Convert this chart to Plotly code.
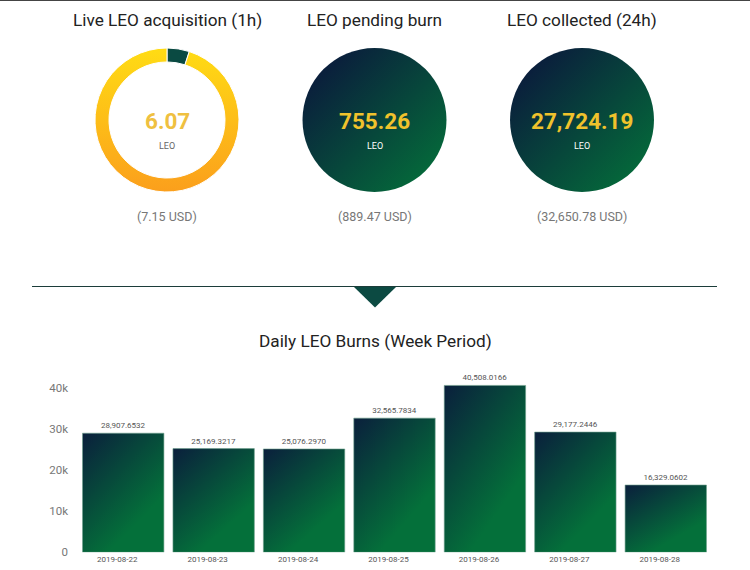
import plotly.graph_objects as go

W, H = 750, 570

dates = ["2019-08-22", "2019-08-23", "2019-08-24", "2019-08-25", "2019-08-26", "2019-08-27", "2019-08-28"]
burns = [28907.6532, 25169.3217, 25076.2970, 32565.7834, 40508.0166, 29177.2446, 16329.0602]

gauge_titles = ["Live LEO acquisition (1h)", "LEO pending burn", "LEO collected (24h)"]
gauge_values = ["6.07", "755.26", "27,724.19"]
gauge_usd = ["(7.15 USD)", "(889.47 USD)", "(32,650.78 USD)"]
gauge_centers = [167, 374.5, 582]
live_slices = [0.32, 6.07]

FONT = "Roboto, sans-serif"
px = lambda v: v / W
py = lambda v: 1 - v / H

fig = go.Figure()
R = 72
CY = 120
fig.add_trace(go.Pie(
    values=live_slices, sort=False, direction="clockwise", rotation=0, hole=0.806,
    domain=dict(x=[px(gauge_centers[0] - R), px(gauge_centers[0] + R)], y=[py(CY + R), py(CY - R)]),
    marker=dict(colors=["#0a4a42", "#fdc41a"], line=dict(color="white", width=1)),
    textinfo="none", hoverinfo="skip", showlegend=False))
for i in (1, 2):
    fig.add_trace(go.Pie(
        values=[1], sort=False,
        domain=dict(x=[px(gauge_centers[i] - R), px(gauge_centers[i] + R)], y=[py(CY + R), py(CY - R)]),
        marker=dict(colors=["#0a4a42"], line=dict(width=0)),
        textinfo="none", hoverinfo="skip", showlegend=False))

fig.add_trace(go.Bar(
    x=dates, y=burns, texttemplate="%{y:,.4f}", textposition="outside", textangle=0,
    cliponaxis=False, constraintext="none",
    textfont=dict(family=FONT, size=8, color="#555555"),
    marker=dict(color="#0a4a42", line=dict(color="rgba(110,160,140,0.6)", width=1)),
    hoverinfo="skip", showlegend=False))

ann = []
for i in range(3):
    c = gauge_centers[i]
    ann.append(dict(x=px(c), y=py(20), text=gauge_titles[i], font=dict(family=FONT, size=17.2, color="#222222")))
    ann.append(dict(x=px(c), y=py(120.5), text=gauge_values[i], font=dict(family=FONT, size=22.5, weight=700, color="#f0c22c" if i else "#efc040")))
    ann.append(dict(x=px(c), y=py(146), text="LEO", font=dict(family=FONT, size=9, color="#666666" if i == 0 else "#ffffff")))
    ann.append(dict(x=px(c), y=py(216), text=gauge_usd[i], font=dict(family=FONT, size=12.5, color="#777777")))
ann.append(dict(x=px(375), y=py(341), text="Daily LEO Burns (Week Period)", font=dict(family=FONT, size=17.2, color="#222222")))
for a in ann:
    a.update(xref="paper", yref="paper", xanchor="center", yanchor="middle", showarrow=False)

shapes = [
    dict(type="rect", xref="paper", yref="paper", x0=0, x1=1, y0=py(1), y1=1, fillcolor="#444444", line=dict(width=0), layer="above"),
    dict(type="line", xref="paper", yref="paper", x0=px(32), x1=px(717), y0=py(286.5), y1=py(286.5), line=dict(color="#1c3d3a", width=1.2)),
    dict(type="path", xref="paper", yref="paper",
         path=f"M {px(354)} {py(287)} L {px(396)} {py(287)} L {px(375)} {py(307.5)} Z",
         fillcolor="#0c4a42", line=dict(width=0)),
]

fig.update_layout(
    width=W, height=H, autosize=False, paper_bgcolor="white", plot_bgcolor="white",
    margin=dict(l=0, r=0, t=0, b=0, autoexpand=False), bargap=0.1, font=dict(family=FONT),
    annotations=ann, shapes=shapes,
    xaxis=dict(domain=[px(78), px(711)], type="category", showgrid=False, showline=False, zeroline=False,
               ticks="", ticklabelshift=-6, ticklabelstandoff=1, tickfont=dict(family=FONT, size=8, color="#555555")),
    yaxis=dict(domain=[py(552.3), py(380)], range=[0, 41820], tickvals=[0, 10000, 20000, 30000, 40000],
               tickformat="~s", showgrid=False, showline=False, zeroline=False, ticks="",
               ticklabelstandoff=9, tickfont=dict(family=FONT, size=11.5, color="#777777")),
)

post = """
document.documentElement.style.overflow='hidden';
document.body.style.margin='0';
var gd=document.getElementById('{plot_id}');
var svg=gd.querySelector('svg.main-svg');
var NS='http://www.w3.org/2000/svg';
var defs=document.createElementNS(NS,'defs');
function grad(id,x2,y2,stops){
  var g=document.createElementNS(NS,'linearGradient');
  g.setAttribute('id',id);g.setAttribute('x1','0');g.setAttribute('y1','0');g.setAttribute('x2',x2);g.setAttribute('y2',y2);
  stops.forEach(function(s){var t=document.createElementNS(NS,'stop');t.setAttribute('offset',s[0]);t.setAttribute('stop-color',s[1]);g.appendChild(t);});
  defs.appendChild(g);
}
grad('gBar','0.7','1',[[0,'#0a1f3c'],[0.82,'#04703a'],[1,'#04703a']]);
grad('gCircle','1','1',[[0.15,'#0a1f3c'],[0.95,'#04703a']]);
grad('gGold','0','1',[[0,'#ffdc14'],[1,'#fb9f1c']]);
svg.insertBefore(defs,svg.firstChild);
gd.querySelectorAll('.barlayer .point path').forEach(function(p){p.style.fill='url(#gBar)';});
var pies=gd.querySelectorAll('.pielayer .trace');
pies.forEach(function(t,i){
  t.querySelectorAll('.slice path.surface').forEach(function(p,j){
    if(i===0){ if(j===1){p.style.fill='url(#gGold)';} }
    else {p.style.fill='url(#gCircle)';}
  });
});
"""
fig.write_html("out.html", post_script=post, config=dict(displayModeBar=False))
